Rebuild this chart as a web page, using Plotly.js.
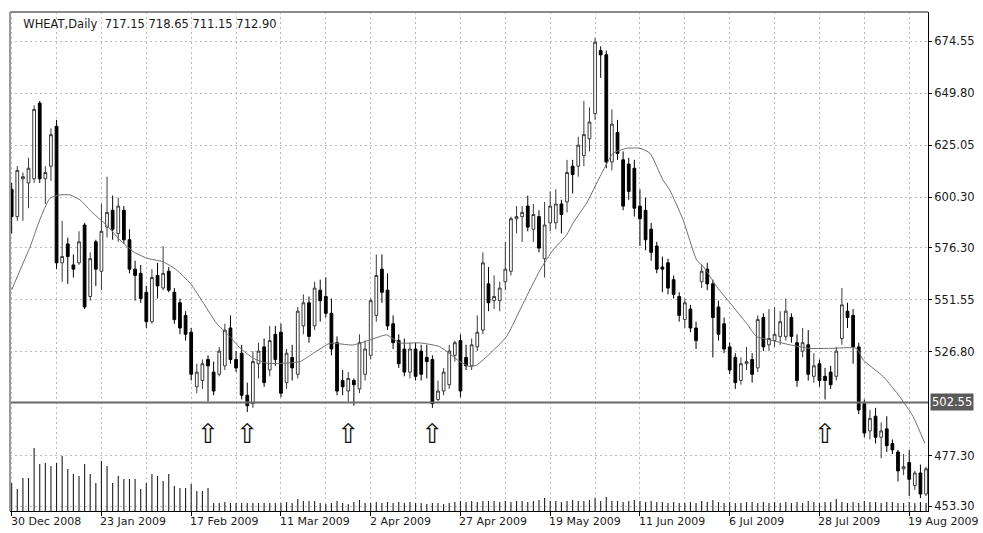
<!DOCTYPE html>
<html>
<head>
<meta charset="utf-8">
<script src="https://cdn.plot.ly/plotly-3.0.1.min.js"></script>
<style>html,body{margin:0;padding:0;background:#fff;}#chart{width:983px;height:533px;}</style>
</head>
<body>
<div id="chart"></div>
<script>
// ---- data ----
const titleText = "WHEAT,Daily\u00A0\u00A0717.15 718.65 711.15 712.90";

const open = [
604,591,609,607,609,645,609,615,634,569,
578,568,569,587,553,579,565,586,594,583,
594,580,566,564,555,541,563,557,565,555,
550,544,536,510,513,523,517,516,520,538,
523,526,506,502,521,529,518,535,536,512,
524,516,539,550,539,556,553,545,531,513,
508,513,509,516,525,544,566,556,540,532,
528,517,528,527,524,523,504,508,511,525,
532,524,520,529,537,559,551,551,560,565,
590,591,596,585,591,571,588,588,597,598,
615,615,620,628,640,670,668,617,631,618,
616,614,596,594,585,577,567,569,561,553,
542,547,538,560,566,559,548,540,529,524,
513,521,523,519,543,530,532,534,534,543,
531,527,530,515,521,515,517,515,533,546,
544,529,502,489,496,486,490,483,479,471,
474,463,469,459];

const high = [
607,615,612,619,644,646,615,633,637,589,
581,573,584,588,574,580,597,610,601,600,
596,585,570,568,558,566,569,577,567,557,
552,546,538,521,523,525,522,529,540,544,
527,530,512,527,531,533,539,539,540,528,
530,548,554,553,560,561,562,552,534,518,
517,514,535,532,552,573,573,564,544,535,
533,531,531,530,530,525,513,519,530,532,
535,530,533,544,574,567,563,560,579,591,
596,596,601,597,594,598,603,604,599,618,
618,629,646,643,676,672,670,642,637,622,
619,618,604,600,588,579,572,571,563,555,
552,549,541,568,569,561,551,543,531,526,
524,529,526,544,545,547,548,546,552,545,
535,538,537,526,523,519,520,529,557,550,
547,531,504,499,500,493,496,485,480,478,
480,470,473,472];

const low = [
583,589,589,595,607,607,597,608,566,560,
559,562,568,547,551,558,556,581,580,579,
578,564,551,550,538,540,552,556,555,540,
535,532,513,507,509,503,506,515,518,521,
517,504,498,500,514,510,515,520,505,509,
513,514,535,531,537,541,543,525,506,506,
503,501,507,513,523,541,550,537,528,519,
515,514,513,513,514,500,503,506,509,522,
505,518,518,527,535,546,547,546,556,563,
583,579,584,579,574,562,584,585,583,593,
602,610,615,622,637,657,614,613,618,594,
599,591,577,575,570,564,555,554,552,541,
538,536,528,557,556,524,532,526,516,509,
511,518,512,517,527,527,529,530,532,531,
510,524,513,512,510,504,509,513,530,538,
521,497,486,485,483,476,479,478,465,468,
458,461,457,458];

const close = [
591,613,610,614,642,609,612,630,569,572,
572,566,579,548,571,566,584,593,585,596,
580,566,563,552,541,562,558,564,556,542,
538,535,516,517,521,520,508,527,537,523,
519,506,501,522,527,512,532,523,507,526,
519,546,550,534,557,551,545,528,508,510,
514,511,531,528,551,563,555,539,531,521,
517,528,515,516,522,502,508,517,527,531,
508,520,530,536,569,550,553,557,566,590,
591,593,586,592,576,587,596,597,592,612,
611,625,630,636,674,668,617,635,621,596,
603,595,590,580,574,566,566,557,554,544,
550,538,532,565,559,543,535,528,518,512,
521,522,516,542,529,533,535,541,546,534,
513,531,516,520,513,513,511,527,549,543,
529,499,488,495,486,489,482,480,470,472,
466,469,459,471];

const volume = [
28,22,33,33,63,47,48,45,48,55,42,37,35,47,37,28,50,45,28,35,32,32,32,22,28,37,35,30,37,25,23,23,27,20,20,23,
8,8,9,8,8,8,8,8,8,8,8,8,8,9,8,12,10,10,10,8,7,
8,10,8,7,9,11,8,8,9,8,9,8,9,8,9,8,8,7,8,8,7,8,9,10,
9,10,9,10,10,10,9,10,9,10,10,9,10,11,13,10,10,9,10,11,10,10,11,13,10,14,10,10,9,10,11,10,9,10,9,
9,8,9,8,8,9,8,10,9,11,9,8,9,8,8,9,9,8,9,8,9,8,9,8,9,8,10,9,8,9,9,12,9,8,9,8,10,9,9,8,9,9,8,8,9,8,9,8];

// moving average line, read at these bar positions
const maBar = [0,1.5,3.3,5,6.8,8.6,10.4,12.2,14.5,16.9,19.3,21.7,24.1,27,29.4,31.8,34.2,36.5,38.9,40.7,43.1,45.5,48.4,51.4,53.8,56.7,60.8,63.9,66.8,69.2,72.8,76.3,79.9,81.7,82.9,85.3,88.2,91.2,94.2,96.5,98.9,100.1,102.5,104.3,105.5,107.2,109.6,112,113.8,116.1,117.3,119.7,122.1,123.3,125.7,128.1,131,132.8,135.2,138.7,142.3,145.9,150.6,151.8,155.4,158.3,160.7,162.8];
const maVal = [556.1,565.6,576.7,589.4,599.7,601.3,601.3,598.9,592.6,587,579.9,574.3,571.2,569.5,565.6,559.3,549.8,540.3,533.9,528.5,523.6,521.2,521.2,522,526,530.7,529.9,532.3,534.7,530.9,530.9,529.1,522,519.6,520.4,525.9,533.9,549.8,565.6,575.1,582.2,588,597.5,607,613.2,621.1,623.5,623.5,621.1,608.4,603.7,589.4,570.4,567.2,557.6,549.8,540.2,533.9,532.3,530,528.3,528.3,528.3,522.8,514.8,505.4,495.8,483.1];

// date labels every 16 bars
const dateTickBars = [0,16,32,48,64,80,96,112,128,144,160];
const dateTickLabels = ["30 Dec 2008","23 Jan 2009","17 Feb 2009","11 Mar 2009","2 Apr 2009","27 Apr 2009","19 May 2009","11 Jun 2009","6 Jul 2009","28 Jul 2009","19 Aug 2009"];

// price scale labels
const priceTicks = [674.55,649.80,625.05,600.30,576.30,551.55,526.80,477.30,453.30];
const priceTickText = ["674.55","649.80","625.05","600.30","576.30","551.55","526.80","477.30","453.30"];

// horizontal level line
const levelPrice = 502.55;
const levelText = "502.55";

// up arrows
const arrowBars = [35,42,60,75,145];
const arrowPrice = [486.5,486.5,486.5,486.5,486.5];

// ---- chart ----
const bars = open.map((_, i) => i);
const FONT = "DejaVu Sans, Verdana, sans-serif";

const traces = [
  {
    type: "bar", x: bars, y: volume, yaxis: "y2",
    width: 0.2, marker: {color: "#222", line: {width: 0}},
    hoverinfo: "skip", showlegend: false
  },
  {
    type: "candlestick", x: bars, open: open, high: high, low: low, close: close,
    increasing: {line: {color: "#3a3a3a", width: 1}, fillcolor: "#ffffff"},
    decreasing: {line: {color: "#000000", width: 1}, fillcolor: "#000000"},
    whiskerwidth: 0, hoverinfo: "skip", showlegend: false
  },
  {
    type: "scatter", mode: "lines", x: maBar, y: maVal,
    line: {color: "#6e6e6e", width: 1, shape: "spline", smoothing: 0.5},
    hoverinfo: "skip", showlegend: false
  },
  {
    type: "scatter", mode: "text", x: arrowBars, y: arrowPrice,
    text: arrowBars.map(() => "\u21E7"),
    textfont: {family: FONT, size: 27, color: "#111"},
    textposition: "middle center", hoverinfo: "skip", showlegend: false
  }
];

const annotations = dateTickBars.map((b, k) => ({
  x: b, xref: "x", y: 0, yref: "paper", yanchor: "top", xanchor: "left",
  yshift: -2, xshift: -3, showarrow: false, text: dateTickLabels[k],
  font: {family: FONT, size: 11, color: "#1a1a1a"}
}));
annotations.push({
  x: 1, xref: "paper", y: levelPrice, yref: "y", xanchor: "left", yanchor: "middle",
  xshift: 2, showarrow: false, text: levelText, bgcolor: "#5a5a5a", borderpad: 1,
  font: {family: FONT, size: 11.5, color: "#ffffff"}
});

const layout = {
  width: 983, height: 533,
  margin: {l: 10, r: 55, t: 12, b: 22, pad: 0},
  paper_bgcolor: "#ffffff", plot_bgcolor: "#ffffff",
  showlegend: false, hovermode: false,
  title: {
    text: titleText, x: 0.0145, xanchor: "left", xref: "paper",
    y: 0.955, yanchor: "middle", yref: "container",
    font: {family: FONT, size: 11.5, color: "#1a1a1a"}
  },
  xaxis: {
    type: "linear", range: [-0.3, 163.35], rangeslider: {visible: false},
    tickmode: "array", tickvals: dateTickBars, showticklabels: false,
    ticks: "outside", ticklen: 4, tickcolor: "#000",
    showgrid: true, gridcolor: "#bcbcbc", griddash: "2px,3px", gridwidth: 1,
    minor: {tickmode: "linear", tick0: 0, dtick: 8, showgrid: true, gridcolor: "#bcbcbc", griddash: "2px,3px", ticks: ""},
    showline: true, linecolor: "#000", linewidth: 1, zeroline: false, fixedrange: true
  },
  yaxis: {
    range: [450.92, 688.35], side: "right",
    tickmode: "array", tickvals: priceTicks, ticktext: priceTickText,
    ticks: "outside", ticklen: 3, tickcolor: "#000",
    tickfont: {family: FONT, size: 11.5, color: "#1a1a1a"},
    showgrid: true, gridcolor: "#bcbcbc", griddash: "2px,3px", gridwidth: 1,
    showline: true, linecolor: "#000", linewidth: 1, zeroline: false, fixedrange: true
  },
  yaxis2: {
    overlaying: "y", range: [0, 499], visible: false, fixedrange: true
  },
  shapes: [
    {type: "line", xref: "paper", yref: "y", x0: 0, x1: 1, y0: levelPrice, y1: levelPrice,
     line: {color: "#6a6a6a", width: 2}},
    {type: "line", xref: "paper", yref: "paper", x0: 0, x1: 1, y0: 1, y1: 1,
     line: {color: "#8a8a8a", width: 2}},
    {type: "line", xref: "paper", yref: "paper", x0: 0, x1: 0, y0: 0, y1: 1,
     line: {color: "#9a9a9a", width: 2}}
  ],
  annotations: annotations
};

Plotly.newPlot("chart", traces, layout, {displayModeBar: false, staticPlot: true});
</script>
</body>
</html>
